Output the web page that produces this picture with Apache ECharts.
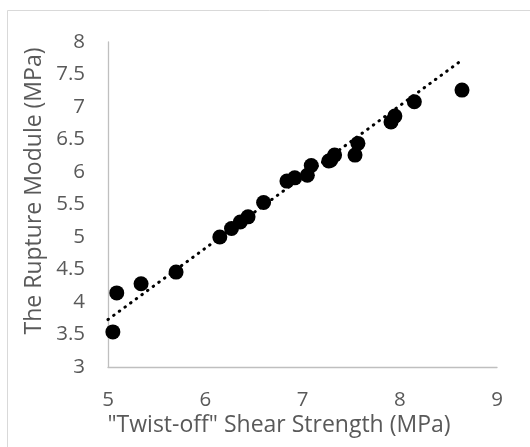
<!DOCTYPE html>
<html>
<head>
<meta charset="utf-8">
<script src="https://cdn.jsdelivr.net/npm/echarts@6/dist/echarts.min.js"></script>
<style>
html,body{margin:0;padding:0;background:#fff;}
#c{width:530px;height:447px;}
</style>
</head>
<body>
<div id="c"></div>
<script>
var shearStrength = [5.05, 5.09, 5.34, 5.70, 6.15, 6.27, 6.36, 6.44, 6.60, 6.84, 6.92, 7.05, 7.09, 7.27, 7.29, 7.33, 7.54, 7.57, 7.91, 7.95, 8.15, 8.64];
var ruptureModule = [3.54, 4.14, 4.28, 4.46, 5.00, 5.13, 5.23, 5.31, 5.53, 5.86, 5.91, 5.95, 6.10, 6.17, 6.18, 6.26, 6.26, 6.44, 6.77, 6.86, 7.08, 7.26];
var trendX = [5.0, 8.62];
var trendY = [3.73, 7.70];
var xTicks = [5, 6, 7, 8, 9];
var yTicks = [3, 3.5, 4, 4.5, 5, 5.5, 6, 6.5, 7, 7.5, 8];
var xTitle = '"Twist-off" Shear Strength (MPa)';
var yTitle = 'The Rupture Module (MPa)';

var points = shearStrength.map(function(x, i){ return [x, ruptureModule[i]]; });
var trend = trendX.map(function(x, i){ return [x, trendY[i]]; });

var FONT = 'Open Sans';
var FS_TITLE = 23;
var FS_TICK = 20.5;
var chart = echarts.init(document.getElementById('c'), null, {renderer:'canvas'});
chart.setOption({
  animation: false,
  backgroundColor: '#fff',
  graphic: [{
    type: 'rect', silent: true,
    shape: {x: 7.5, y: 10.5, width: 700, height: 700},
    style: {fill: 'none', stroke: '#d9d9d9', lineWidth: 1}
  }, {
    type: 'text', silent: true, x: 279, y: 425,
    style: {text: xTitle, fill: '#595959', fontSize: FS_TITLE, fontFamily: FONT, align: 'center', verticalAlign: 'middle'}
  }, {
    type: 'text', silent: true, x: 34, y: 191, rotation: Math.PI / 2,
    style: {text: yTitle, fill: '#595959', fontSize: FS_TITLE, fontFamily: FONT, align: 'center', verticalAlign: 'middle'}
  }],
  grid: {left: 108, right: 33, top: 42, bottom: 80, containLabel: false},
  xAxis: {
    type: 'value', min: xTicks[0], max: xTicks[xTicks.length-1], interval: 1,
    axisLine: {show: true, lineStyle: {color: '#bfbfbf', width: 1.3}},
    axisTick: {show: false},
    splitLine: {show: false},
    axisLabel: {color: '#595959', fontSize: FS_TICK, fontFamily: FONT, margin: 23}
  },
  yAxis: {
    type: 'value', min: yTicks[0], max: yTicks[yTicks.length-1], interval: 0.5,
    axisLine: {show: true, lineStyle: {color: '#bfbfbf', width: 1.3}},
    axisTick: {show: false},
    splitLine: {show: false},
    axisLabel: {color: '#595959', fontSize: FS_TICK, fontFamily: FONT, margin: 23}
  },
  series: [{
    type: 'line', data: trend, showSymbol: false, symbol: 'none',
    lineStyle: {color: '#000', width: 3, type: [0.5, 6.5], cap: 'round'},
    z: 1
  }, {
    type: 'scatter', data: points, symbol: 'circle', symbolSize: 15,
    itemStyle: {color: '#000', opacity: 1}, z: 2
  }]
});
</script>
</body>
</html>
